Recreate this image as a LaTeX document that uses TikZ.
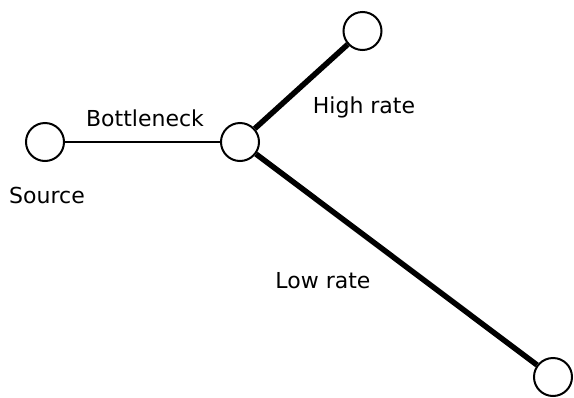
\documentclass[tikz,border=0pt]{standalone}
\usepackage{fontspec}
\setmainfont{DejaVu Sans}
\usetikzlibrary{positioning}

\begin{document}
\begin{tikzpicture}[
    x=1pt, y=-1pt,
    host/.style={draw, circle, line width=2pt, minimum size=38pt, inner sep=0pt, fill=white},
    thinlink/.style={line width=2pt},
    thicklink/.style={line width=5.5pt},
    lbl/.style={anchor=base, inner sep=0pt, font=\fontsize{22}{26}\selectfont}
]
\useasboundingbox (0,0) rectangle (574,397);
\node[host] (src) at (45,142) {};
\node[host] (mid) at (240,142) {};
\node[host] (hi) at (362.5,31) {};
\node[host] (lo) at (553,377) {};

\draw[thinlink] (src) -- (mid);
\draw[thicklink] (mid) -- (hi);
\draw[thicklink] (mid) -- (lo);

\node[lbl] (lbottle) at (145,126) {Bottleneck};
\node[lbl] (lsrc) at (47,203) {Source};
\node[lbl] (lhigh) at (364,113) {High rate};
\node[lbl] (llow) at (323,288) {Low rate};
\end{tikzpicture}
\end{document}
